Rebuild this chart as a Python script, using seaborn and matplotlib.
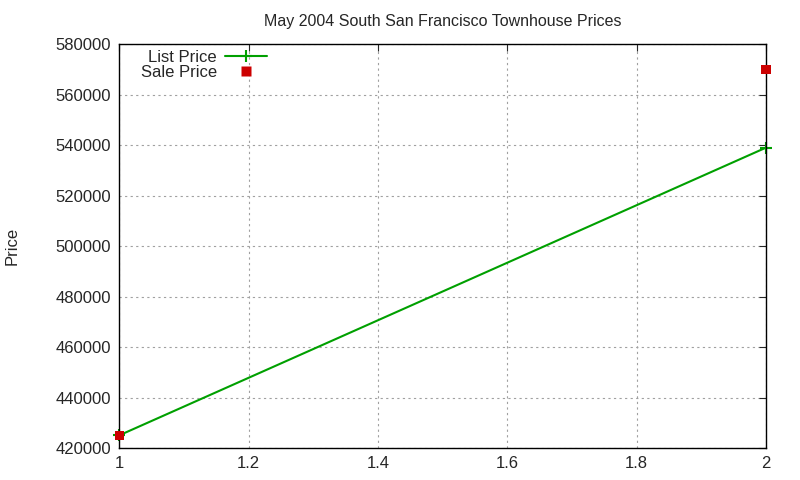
import seaborn as sns
import matplotlib.pyplot as plt
from matplotlib.lines import Line2D
import pandas as pd

x_vals = [1, 2]
list_price = [425000, 539000]
sale_price = [425000, 570000]

df = pd.DataFrame({'x': x_vals, 'list': list_price, 'sale': sale_price})

sns.set_style('white')
plt.rcParams['font.family'] = ['Liberation Sans', 'DejaVu Sans']

fig = plt.figure(figsize=(8, 4.8), dpi=100)
ax = fig.add_axes([0.149, 0.0667, 0.8085, 0.8413])

green = '#00a000'
red = '#cc0000'

sns.lineplot(data=df, x='x', y='list', ax=ax, color=green, lw=1.5,
             marker='+', markersize=9, mew=1.5, mec=green, legend=False)
sns.scatterplot(data=df, x='x', y='sale', ax=ax, color=red, marker='s',
                s=45, edgecolor='none', legend=False, zorder=5)
for art in ax.lines + ax.collections:
    art.set_clip_on(False)

ax.set_xlim(1, 2)
ax.set_ylim(420000, 580000)
ax.set_xticks([1, 1.2, 1.4, 1.6, 1.8, 2])
ax.set_xticklabels(['1', '1.2', '1.4', '1.6', '1.8', '2'])
ax.set_yticks(range(420000, 580001, 20000))
ax.set_yticklabels([str(v) for v in range(420000, 580001, 20000)])
ax.tick_params(direction='in', top=True, right=True, length=5, labelsize=12, pad=6)
ax.grid(True, color='#a0a0a0', linestyle=(0, (2, 3)), lw=0.8)
for s in ax.spines.values():
    s.set_color('black')
    s.set_linewidth(1)

ax.set_xlabel('')
ax.set_ylabel('Price', fontsize=12, labelpad=26)
ax.set_title('May 2004 South San Francisco Townhouse Prices', fontsize=11.5, pad=13)

handles = [
    Line2D([], [], color=green, lw=1.5, marker='+', markersize=9, mew=1.5),
    Line2D([], [], color=red, lw=0, marker='s', markersize=6.5, mec='none'),
]
ax.legend(handles, ['List Price', 'Sale Price'], loc='upper left',
          bbox_to_anchor=(0.023, 1.002), frameon=False, markerfirst=False,
          fontsize=12, handlelength=2.5, borderpad=0.1, labelspacing=0.0,
          handletextpad=0.5, borderaxespad=0.3)

plt.savefig('out.png', dpi=100)
